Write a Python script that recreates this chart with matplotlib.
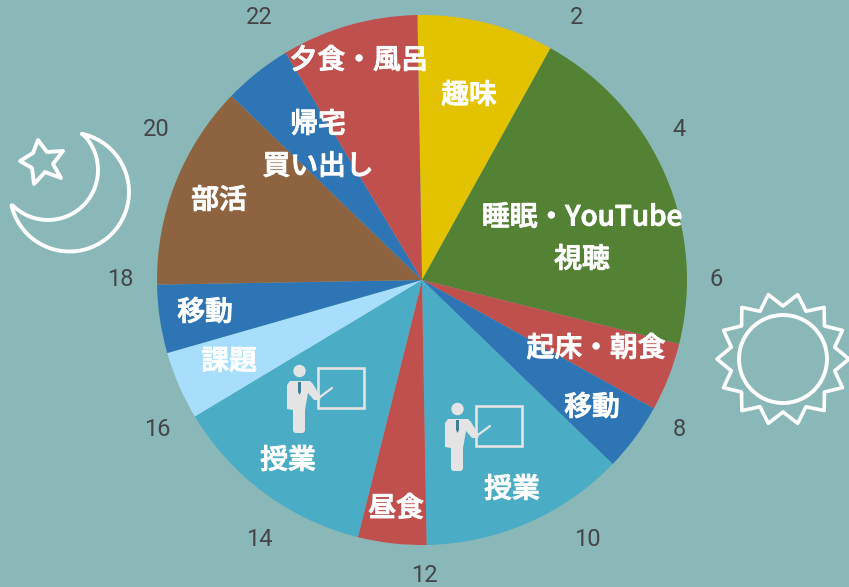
import matplotlib
matplotlib.use("Agg")
import matplotlib.pyplot as plt
import matplotlib.patheffects as pe
import numpy as np
from matplotlib.patches import Circle, Rectangle, Polygon

plt.rcParams['font.family'] = ['Noto Sans CJK JP', 'DejaVu Sans']

# hours of the day, starting from midnight and going clockwise
hours = [2, 5, 1, 1, 3, 1, 3, 1, 1, 3, 1, 2]
colors = ['#E3C300', '#548235', '#C0504D', '#2E75B6', '#4BACC6', '#C0504D',
          '#4BACC6', '#A6DEFC', '#2E75B6', '#8E6340', '#2E75B6', '#C0504D']

slice_labels = ['趣味', '睡眠・YouTube', '視聴', '起床・朝食', '移動', '授業',
                '昼食', '授業', '課題', '移動', '部活', '帰宅', '買い出し', '夕食・風呂']
slice_label_x = [469, 582, 582, 596, 592, 512, 396, 288, 229, 205, 219, 318, 318, 359]
slice_label_y = [95, 217, 259, 348, 407, 489, 508, 460, 361, 312, 200, 124, 166, 60]

clock_labels = ['2', '4', '6', '8', '10', '12', '14', '16', '18', '20', '22']
clock_x = [577, 679, 716, 679, 587, 424, 259, 157, 120, 156, 259]
clock_y = [17, 129, 280, 430, 540, 576, 539, 430, 280, 129, 17]

BG = '#8AB8B8'
W, H = 849, 587
CX, CY, R = 422, 280, 265

fig = plt.figure(figsize=(W / 100, H / 100), dpi=100, facecolor=BG)
ax = fig.add_axes([0, 0, 1, 1])

# y axis runs downward so everything below is in picture pixels
ax.pie(hours, colors=colors, startangle=-91, counterclock=True,
       center=(CX, CY), radius=R, frame=True, wedgeprops={'linewidth': 0})
ax.set_xlim(0, W)
ax.set_ylim(H, 0)
ax.set_aspect('equal')
ax.axis('off')


def teacher(dx, dy):
    grey = '#E4E4E4'
    ax.add_patch(Rectangle((318 + dx, 368 + dy), 46, 40, fill=False, ec=grey, lw=1.9))
    ax.plot([320 + dx, 332 + dx], [397 + dy, 388 + dy], color=grey, lw=1.6,
            solid_capstyle='round')
    ax.add_patch(Circle((299.5 + dx, 371 + dy), 6.2, fc=grey, ec='none'))
    body = [(290, 381), (310, 381), (313, 384), (319, 394), (321, 397), (320, 400),
            (314, 400), (308, 393), (305, 410), (305, 431), (303, 433), (295, 433),
            (293, 431), (293, 410), (287, 409), (287, 385)]
    ax.add_patch(Polygon([(x + dx, y + dy) for x, y in body], fc=grey, ec='none'))
    ax.add_patch(Polygon([(298 + dx, 382 + dy), (301 + dx, 382 + dy), (301 + dx, 392 + dy),
                          (299.5 + dx, 395 + dy), (298 + dx, 392 + dy)], fc='#3F7F96', ec='none'))


teacher(0, 0)
teacher(158, 38)

# moon outline, two arcs between the tips
a1 = np.radians(np.linspace(-78, 167, 80))
a2 = np.radians(np.linspace(135, -43, 60))
mx = np.r_[69.5 + 59.5 * np.cos(a1), 48 + 50 * np.cos(a2)]
my = np.r_[192 + 59.5 * np.sin(a1), 170 + 50 * np.sin(a2)]
ax.add_patch(Polygon(np.c_[mx, my], closed=True, fill=False, ec='white', lw=2.8, joinstyle='round'))

star = [(38, 140), (47, 152), (63, 151), (53, 164), (61, 178), (45, 172),
        (34, 184), (32, 168), (20, 161), (33, 153)]
ax.add_patch(Polygon(star, closed=True, fill=False, ec='white', lw=2.8, joinstyle='round'))

# sun
n = 14
t = np.radians(np.arange(2 * n) * 180 / n)
r = np.where(np.arange(2 * n) % 2 == 0, 66, 53)
ax.add_patch(Polygon(np.c_[783 + r * np.cos(t), 359 + r * np.sin(t)], closed=True, fill=False,
                     ec='white', lw=2.6, joinstyle='round'))
ax.add_patch(Circle((783, 359), 44, fill=False, ec='white', lw=2.8))

# medium weight plus a thin outline, closer to the rounded font of the original
stroke = [pe.withStroke(linewidth=0.7, foreground='white')]
for s, x, y in zip(slice_labels, slice_label_x, slice_label_y):
    ax.text(x, y, s, color='white', fontsize=20, fontweight='medium', ha='center', va='center',
            path_effects=stroke)

for s, x, y in zip(clock_labels, clock_x, clock_y):
    ax.text(x, y, s, color='#454545', fontsize=17, fontweight='normal', ha='center', va='center',
            family=['Roboto', 'DejaVu Sans'])

fig.savefig('out.png', dpi=100, facecolor=BG)
